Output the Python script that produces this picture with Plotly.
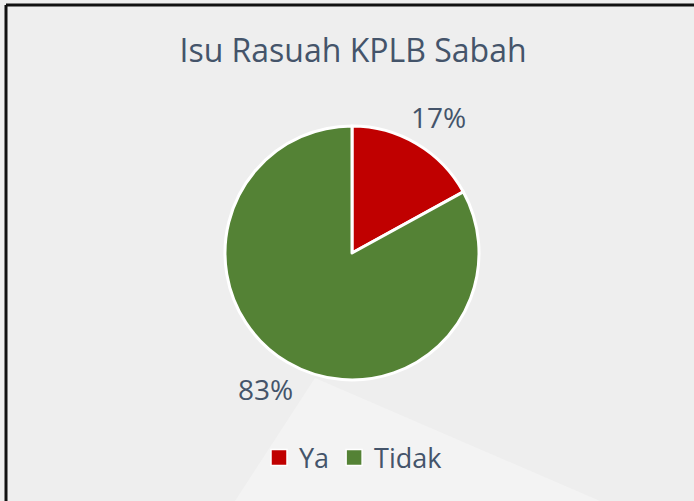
import math
import plotly.graph_objects as go

title_text = "Isu Rasuah KPLB Sabah"
labels = ["Ya", "Tidak"]
values = [17, 83]
colors = ["#C00000", "#548235"]

W, H = 694, 501
text_color = "#44546A"
font_family = "Open Sans, Noto Sans, sans-serif"

def px_x(x):
    return x / W

def px_y(y):
    return 1 - y / H

# pie geometry (pixels)
cx, cy, rad = 352, 253, 127
label_r = 161

fig = go.Figure()
fig.add_trace(go.Pie(
    labels=labels,
    values=values,
    marker=dict(colors=colors, line=dict(color="white", width=3)),
    sort=False,
    direction="clockwise",
    rotation=0,
    textinfo="none",
    showlegend=False,
    domain=dict(x=[px_x(cx - rad), px_x(cx + rad)], y=[px_y(cy + rad), px_y(cy - rad)]),
    hoverinfo="label+percent",
))

# legend entries with larger square markers
for lab, col in zip(labels, colors):
    fig.add_trace(go.Scatter(
        x=[None], y=[None], mode="markers", name=lab,
        marker=dict(symbol="square", size=17, color=col, line=dict(color="white", width=1.5)),
        showlegend=True, hoverinfo="skip",
    ))

# percentage labels placed at slice mid-angles
annotations = []
total = sum(values)
cum = 0
for v in values:
    mid = (cum + v / 2) / total * 360 + 2
    cum += v
    a = math.radians(mid)
    lx = cx + label_r * math.sin(a)
    ly = cy - label_r * math.cos(a)
    annotations.append(dict(
        text=f"{round(v / total * 100)}%", x=px_x(lx), y=px_y(ly),
        xref="paper", yref="paper", showarrow=False,
        xanchor="center", yanchor="middle",
        font=dict(size=28, color=text_color, family=font_family),
    ))

fig.update_layout(
    width=W, height=H,
    margin=dict(l=0, r=0, t=0, b=0),
    paper_bgcolor="#EEEEEE",
    plot_bgcolor="rgba(0,0,0,0)",
    xaxis=dict(visible=False),
    yaxis=dict(visible=False),
    title=dict(text=title_text, x=px_x(353), xanchor="center", y=px_y(51), yanchor="middle",
               font=dict(size=32, color=text_color, family=font_family)),
    showlegend=True,
    legend=dict(orientation="h", x=px_x(353), xanchor="center", y=px_y(458), yanchor="middle",
                font=dict(size=27, color=text_color, family=font_family),
                bgcolor="rgba(0,0,0,0)", itemwidth=30),
    annotations=annotations,
    shapes=[
        dict(type="path", xref="paper", yref="paper", layer="below",
             path=f"M {px_x(315)} {px_y(378)} L {px_x(235)} {px_y(501)} L {px_x(600)} {px_y(501)} Z",
             fillcolor="#F3F3F3", line=dict(width=0)),
        dict(type="line", xref="paper", yref="paper", x0=px_x(6), x1=1, y0=px_y(5), y1=px_y(5),
             line=dict(color="#111111", width=3)),
        dict(type="line", xref="paper", yref="paper", x0=px_x(6), x1=px_x(6), y0=0, y1=px_y(5),
             line=dict(color="#111111", width=3)),
    ],
)

fig.write_html("out.html", config={"displayModeBar": False},
               post_script="document.body.style.margin='0';document.body.style.overflow='hidden';")
